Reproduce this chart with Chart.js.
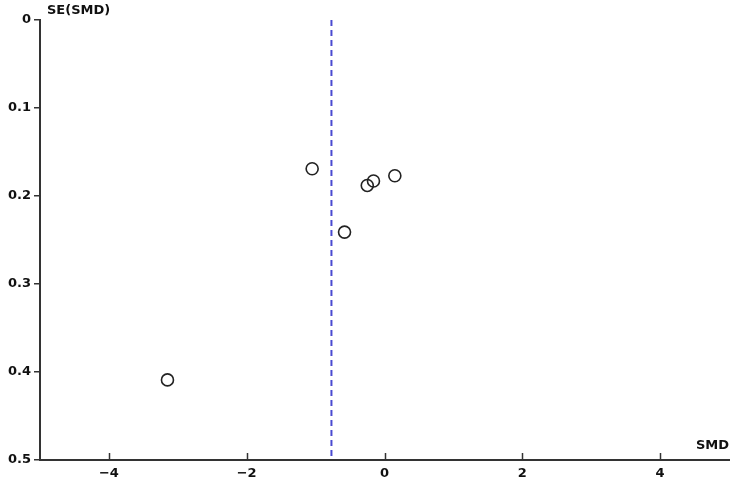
<!DOCTYPE html>
<html>
<head>
<meta charset="utf-8">
<script src="https://cdn.jsdelivr.net/npm/chart.js@4/dist/chart.umd.min.js"></script>
<style>
  html, body { margin: 0; padding: 0; background: #fff; }
  #wrap { width: 750px; height: 500px; }
</style>
</head>
<body>
<div id="wrap"><canvas id="funnel" width="750" height="500"></canvas></div>
<script>
// study effects (SMD) and their standard errors
const smd = [-1.05, -0.58, -0.25, -0.16, 0.15, -3.15];
const seSmd = [0.169, 0.241, 0.188, 0.183, 0.177, 0.409];
// pooled estimate line
const pooledSmd = [-0.77, -0.77];
const pooledSe = [0, 0.5];
const xTicks = [-4, -2, 0, 2, 4];
const yTicks = [0, 0.1, 0.2, 0.3, 0.4, 0.5];

const axisColor = '#333';
const labelFont = { family: 'DejaVu Sans', size: 13, weight: 'bold' };

// inward tick marks on x axis + axis titles
const extras = {
    id: 'extras',
    afterDraw(chart) {
        const ctx = chart.ctx;
        const xs = chart.scales.x;
        const area = chart.chartArea;
        ctx.save();
        ctx.strokeStyle = axisColor;
        ctx.lineWidth = 1.5;
        xTicks.forEach(v => {
            const px = Math.round(xs.getPixelForValue(v)) + 0.5;
            ctx.beginPath();
            ctx.moveTo(px, area.bottom - 7);
            ctx.lineTo(px, area.bottom);
            ctx.stroke();
        });
        ctx.fillStyle = '#111';
        ctx.font = 'bold 13px "DejaVu Sans"';
        ctx.textBaseline = 'middle';
        ctx.textAlign = 'left';
        ctx.fillText('SE(SMD)', area.left + 7, 11);
        ctx.textAlign = 'right';
        ctx.fillText('SMD', area.right, area.bottom - 14);
        ctx.restore();
    }
};

new Chart(document.getElementById('funnel'), {
    type: 'scatter',
    data: {
        datasets: [
            {
                data: smd.map((v, i) => ({ x: v, y: seSmd[i] })),
                pointStyle: 'circle',
                pointRadius: 6,
                pointBorderWidth: 1.6,
                pointBorderColor: '#222',
                pointBackgroundColor: 'rgba(0,0,0,0)',
                showLine: false
            },
            {
                type: 'line',
                data: pooledSmd.map((v, i) => ({ x: v, y: pooledSe[i] })),
                borderColor: '#4a4ad0',
                borderWidth: 2,
                borderDash: [6, 4],
                pointRadius: 0,
                fill: false
            }
        ]
    },
    options: {
        responsive: false,
        animation: false,
        layout: { padding: { top: 20, right: 21, left: 0, bottom: 0 } },
        plugins: {
            legend: { display: false },
            tooltip: { enabled: false }
        },
        scales: {
            x: {
                type: 'linear',
                min: -5,
                max: 5,
                afterFit(scale) { scale.height = 40; },
                afterBuildTicks(scale) { scale.ticks = xTicks.map(v => ({ value: v })); },
                border: { display: true, color: axisColor, width: 2 },
                grid: { display: true, drawOnChartArea: false, drawTicks: false },
                ticks: {
                    padding: 6,
                    color: '#111',
                    font: labelFont,
                    callback: v => (v < 0 ? '\u2212' + Math.abs(v) : String(v))
                }
            },
            y: {
                type: 'linear',
                reverse: true,
                min: 0,
                max: 0.5,
                afterFit(scale) { scale.width = 40; },
                afterBuildTicks(scale) { scale.ticks = yTicks.map(v => ({ value: v })); },
                border: { display: true, color: axisColor, width: 2 },
                grid: { display: true, drawOnChartArea: false, drawTicks: true, tickLength: 6, color: axisColor, lineWidth: 1.5 },
                ticks: {
                    padding: 3,
                    color: '#111',
                    font: labelFont,
                    callback: v => (v === 0 ? '0' : v.toFixed(1))
                }
            }
        }
    },
    plugins: [extras]
});
</script>
</body>
</html>
